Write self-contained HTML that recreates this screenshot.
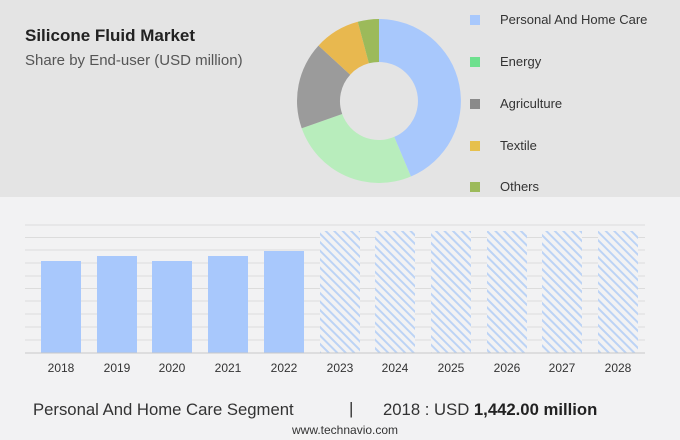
<!DOCTYPE html><html><head><style>
body{margin:0;width:680px;height:440px;background:#f2f2f3;font-family:"Liberation Sans",sans-serif;position:relative;overflow:hidden}
.t{position:absolute;white-space:nowrap}
</style></head><body>
<div style="position:absolute;left:0;top:0;width:680px;height:197px;background:#e4e4e4"></div>
<div class="t" style="left:25px;top:26px;font-size:17px;font-weight:bold;color:#222">Silicone Fluid Market</div>
<div class="t" style="left:25px;top:52px;font-size:15px;color:#555">Share by End-user (USD million)</div>
<svg width="680" height="440" style="position:absolute;left:0;top:0">
<defs><pattern id="h" width="6" height="6" patternUnits="userSpaceOnUse" patternTransform="rotate(-45)"><rect width="6" height="6" fill="#f2f2f3"/><rect width="2" height="6" fill="#bcd3f5"/></pattern></defs>
<g transform="translate(379,101)">
<path d="M0,-82 A82,82 0 0 1 31.9,75.5 L15.2,35.9 A39,39 0 0 0 0,-39Z" fill="#a8c8fc"/>
<path d="M31.9,75.5 A82,82 0 0 1 -77.3,27.3 L-36.8,13 A39,39 0 0 0 15.2,35.9Z" fill="#b8edbc"/>
<path d="M-77.3,27.3 A82,82 0 0 1 -60.5,-55.4 L-28.8,-26.3 A39,39 0 0 0 -36.8,13Z" fill="#9b9b9b"/>
<path d="M-60.5,-55.4 A82,82 0 0 1 -21.2,-79.2 L-10.1,-37.7 A39,39 0 0 0 -28.8,-26.3Z" fill="#e8b84f"/>
<path d="M-21.2,-79.2 A82,82 0 0 1 0,-82 L0,-39 A39,39 0 0 0 -10.1,-37.7Z" fill="#9cba5a"/>
</g>
<rect x="470" y="15" width="10" height="10" fill="#a8c8fc"/>
<rect x="470" y="57" width="10" height="10" fill="#6ee08e"/>
<rect x="470" y="99" width="10" height="10" fill="#8a8a8a"/>
<rect x="470" y="141" width="10" height="10" fill="#e6c04d"/>
<rect x="470" y="182" width="10" height="10" fill="#9cba5a"/>
<g stroke="#dcdcdc" stroke-width="1">
<line x1="25" x2="645" y1="225" y2="225"/><line x1="25" x2="645" y1="237.5" y2="237.5"/><line x1="25" x2="645" y1="250" y2="250"/><line x1="25" x2="645" y1="263" y2="263"/><line x1="25" x2="645" y1="276" y2="276"/><line x1="25" x2="645" y1="288.5" y2="288.5"/><line x1="25" x2="645" y1="301" y2="301"/><line x1="25" x2="645" y1="314" y2="314"/><line x1="25" x2="645" y1="327" y2="327"/><line x1="25" x2="645" y1="340" y2="340"/>
</g>
<g fill="#a8c8fc">
<rect x="41" y="261" width="40" height="92"/><rect x="97" y="256" width="40" height="97"/><rect x="152" y="261" width="40" height="92"/><rect x="208" y="256" width="40" height="97"/><rect x="264" y="251" width="40" height="102"/>
</g>
<g fill="url(#h)">
<rect x="320" y="231" width="40" height="122"/><rect x="375" y="231" width="40" height="122"/><rect x="431" y="231" width="40" height="122"/><rect x="487" y="231" width="40" height="122"/><rect x="542" y="231" width="40" height="122"/><rect x="598" y="231" width="40" height="122"/>
</g>
<line x1="25" x2="645" y1="353" y2="353" stroke="#c8c8c8"/>
<g font-size="12" fill="#333" text-anchor="middle" font-family="Liberation Sans">
<text x="61" y="372">2018</text><text x="117" y="372">2019</text><text x="172" y="372">2020</text><text x="228" y="372">2021</text><text x="284" y="372">2022</text><text x="340" y="372">2023</text><text x="395" y="372">2024</text><text x="451" y="372">2025</text><text x="507" y="372">2026</text><text x="562" y="372">2027</text><text x="618" y="372">2028</text>
</g>
</svg>
<div class="t" style="left:500px;top:12px;font-size:13px;color:#333">Personal And Home Care</div>
<div class="t" style="left:500px;top:54px;font-size:13px;color:#333">Energy</div>
<div class="t" style="left:500px;top:96px;font-size:13px;color:#333">Agriculture</div>
<div class="t" style="left:500px;top:138px;font-size:13px;color:#333">Textile</div>
<div class="t" style="left:500px;top:179px;font-size:13px;color:#333">Others</div>
<div class="t" style="left:33px;top:400px;font-size:16.7px;color:#333">Personal And Home Care Segment</div>
<div class="t" style="left:349px;top:399px;font-size:17px;color:#333">|</div>
<div class="t" style="left:383px;top:400px;font-size:16.7px;color:#333">2018 : USD <b style="color:#222">1,442.00 million</b></div>
<div class="t" style="left:292px;top:423px;font-size:12px;color:#333">www.technavio.com</div>
</body></html>
